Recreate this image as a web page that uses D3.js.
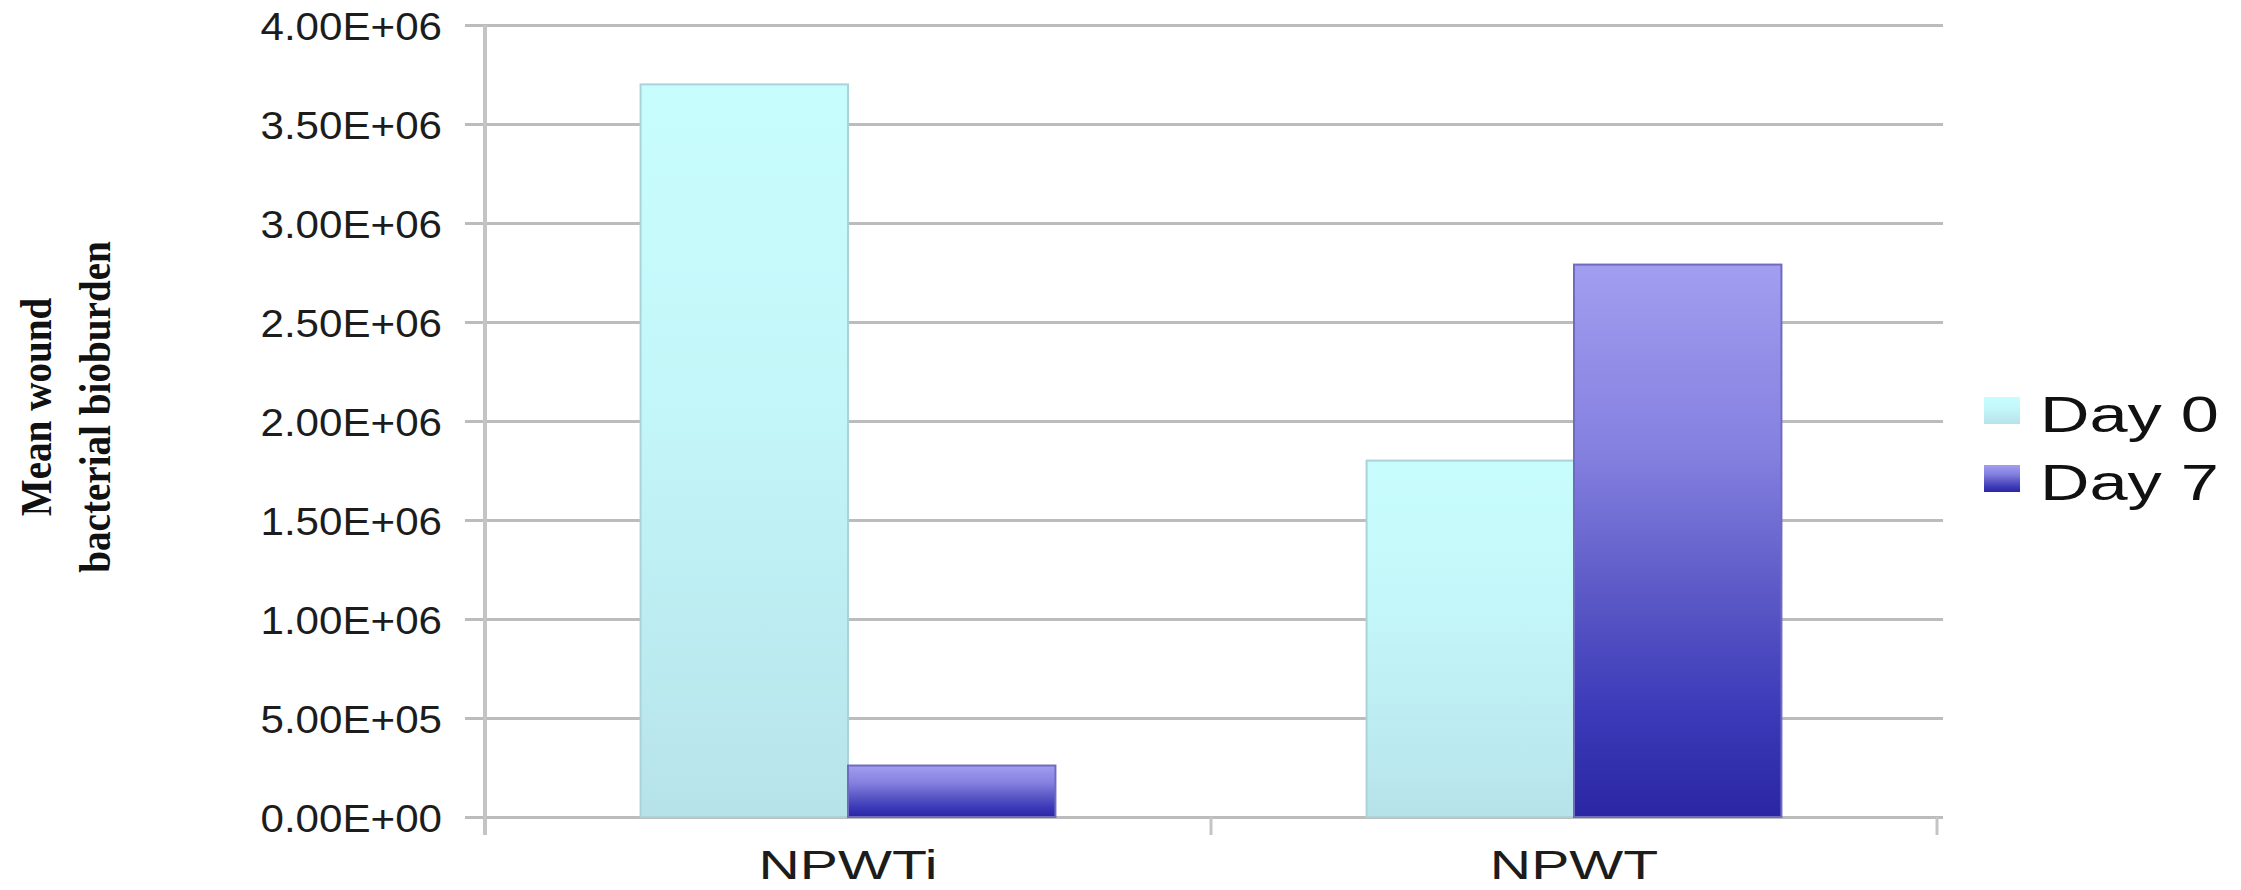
<!DOCTYPE html>
<html>
<head>
<meta charset="utf-8">
<script src="https://cdn.jsdelivr.net/npm/d3@7"></script>
<style>
  html, body { margin: 0; padding: 0; background: #ffffff; }
  svg { display: block; }
</style>
</head>
<body>
<svg id="chart" width="2241" height="890"></svg>
<script>
// Mean wound bacterial bioburden by treatment, day 0 vs day 7
const categories = ["NPWTi", "NPWT"];
const seriesNames = ["Day 0", "Day 7"];
const day0Values = [3.70e6, 1.80e6];
const day7Values = [2.6e5, 2.79e6];
const yTickValues = [0, 5e5, 1e6, 1.5e6, 2e6, 2.5e6, 3e6, 3.5e6, 4e6];
const yTickLabels = ["0.00E+00", "5.00E+05", "1.00E+06", "1.50E+06", "2.00E+06",
                     "2.50E+06", "3.00E+06", "3.50E+06", "4.00E+06"];
const titleLines = ["Mean wound", "bacterial bioburden"];

const seriesValues = [day0Values, day7Values];

const svg = d3.select("#chart");
const plot = { left: 485, right: 1937, top: 25, bottom: 817 };

// Widen or narrow glyphs along the baseline
function stretch(sel, factor) {
  sel.each(function () {
    const w = this.getComputedTextLength();
    d3.select(this).attr("textLength", w * factor).attr("lengthAdjust", "spacingAndGlyphs");
  });
}

const x = d3.scaleBand().domain(categories).range([plot.left, plot.right]).paddingInner(0).paddingOuter(0);
const xSub = d3.scaleBand().domain(seriesNames).range([0, x.bandwidth()]).paddingInner(0).paddingOuter(0.75);
const y = d3.scaleLinear().domain([0, 4e6]).range([plot.bottom, plot.top]);

// Gradients for the bar fills
const defs = svg.append("defs");
const g0 = defs.append("linearGradient").attr("id", "gradDay0").attr("x1", 0).attr("y1", 0).attr("x2", 0).attr("y2", 1);
[["0%", "#c8fdfd"], ["45%", "#c3f6f8"], ["100%", "#b6e3ea"]].forEach(([o, c]) =>
  g0.append("stop").attr("offset", o).attr("stop-color", c));
const g7 = defs.append("linearGradient").attr("id", "gradDay7").attr("x1", 0).attr("y1", 0).attr("x2", 0).attr("y2", 1);
[["0%", "#a29ef0"], ["35%", "#837fdf"], ["60%", "#5b58c6"], ["80%", "#3d3bb9"], ["100%", "#2a26a4"]].forEach(([o, c]) =>
  g7.append("stop").attr("offset", o).attr("stop-color", c));
const fills = { "Day 0": "url(#gradDay0)", "Day 7": "url(#gradDay7)" };
const strokes = { "Day 0": "#a9d3d8", "Day 7": "#6f6cc0" };

// Horizontal gridlines
svg.append("g")
  .attr("transform", `translate(${plot.left},0)`)
  .call(d3.axisLeft(y).tickValues(yTickValues).tickSize(-(plot.right - plot.left + 6)).tickFormat(""))
  .call(g => g.select(".domain").remove())
  .call(g => g.selectAll("line").attr("stroke", "#bcbcbc").attr("stroke-width", 3));

// Bars
const barData = [];
categories.forEach((c, i) => seriesNames.forEach((s, j) => barData.push({ c, s, v: seriesValues[j][i] })));
svg.append("g").selectAll("rect").data(barData).join("rect")
  .attr("x", d => x(d.c) + xSub(d.s))
  .attr("y", d => y(d.v))
  .attr("width", xSub.bandwidth())
  .attr("height", d => y(0) - y(d.v))
  .attr("fill", d => fills[d.s])
  .attr("stroke", d => strokes[d.s])
  .attr("stroke-width", 2);

// Y axis with outward ticks and labels
const yAxis = svg.append("g")
  .attr("transform", `translate(${plot.left},0)`)
  .call(d3.axisLeft(y).tickValues(yTickValues).tickSize(20).tickPadding(23)
    .tickFormat((d, i) => yTickLabels[i]));
yAxis.select(".domain").remove();
yAxis.selectAll("line").attr("stroke", "#bcbcbc").attr("stroke-width", 3);
yAxis.selectAll("text")
  .attr("font-family", "'Liberation Sans', Arial, sans-serif")
  .attr("font-size", 39)
  .attr("fill", "#1c1c1c")
  .attr("dy", "0.38em")
  .call(stretch, 1.08);

// Vertical axis line
svg.append("line")
  .attr("x1", plot.left).attr("x2", plot.left)
  .attr("y1", y(4e6)).attr("y2", y(0) + 18)
  .attr("stroke", "#c4c4c4").attr("stroke-width", 4);

// Category boundary ticks below the baseline
const boundaries = categories.map(c => x(c)).concat([x.range()[1]]);
svg.append("g").selectAll("line").data(boundaries).join("line")
  .attr("x1", d => d).attr("x2", d => d)
  .attr("y1", y(0)).attr("y2", y(0) + 18)
  .attr("stroke", "#c4c4c4").attr("stroke-width", 3);

// Category labels
const xAxis = svg.append("g")
  .attr("transform", `translate(0,${y(0)})`)
  .call(d3.axisBottom(x).tickSize(0).tickPadding(34));
xAxis.select(".domain").remove();
xAxis.selectAll("text")
  .attr("font-family", "'Liberation Sans', Arial, sans-serif")
  .attr("font-size", 40)
  .attr("fill", "#1c1c1c")
  .call(stretch, 1.43);

// Legend
const legend = svg.append("g").attr("transform", "translate(1984,0)");
seriesNames.forEach((s, i) => {
  const ly = 432 + i * 68;
  legend.append("rect")
    .attr("x", 0).attr("y", ly - 35)
    .attr("width", 36).attr("height", 27)
    .attr("fill", fills[s]);
  legend.append("text")
    .attr("x", 56).attr("y", ly)
    .attr("font-family", "'Liberation Sans', Arial, sans-serif")
    .attr("font-size", 50)
    .attr("fill", "#111")
    .text(s)
    .call(stretch, 1.37);
});

// Rotated axis title in two lines
const titleX = [51, 110];
titleLines.forEach((t, i) => {
  svg.append("text")
    .attr("transform", `translate(${titleX[i]},407) rotate(-90)`)
    .attr("text-anchor", "middle")
    .attr("font-family", "'Liberation Serif', 'Times New Roman', serif")
    .attr("font-weight", "bold")
    .attr("font-size", 45)
    .attr("fill", "#111")
    .text(t)
    .call(stretch, 0.87);
});
</script>
</body>
</html>
